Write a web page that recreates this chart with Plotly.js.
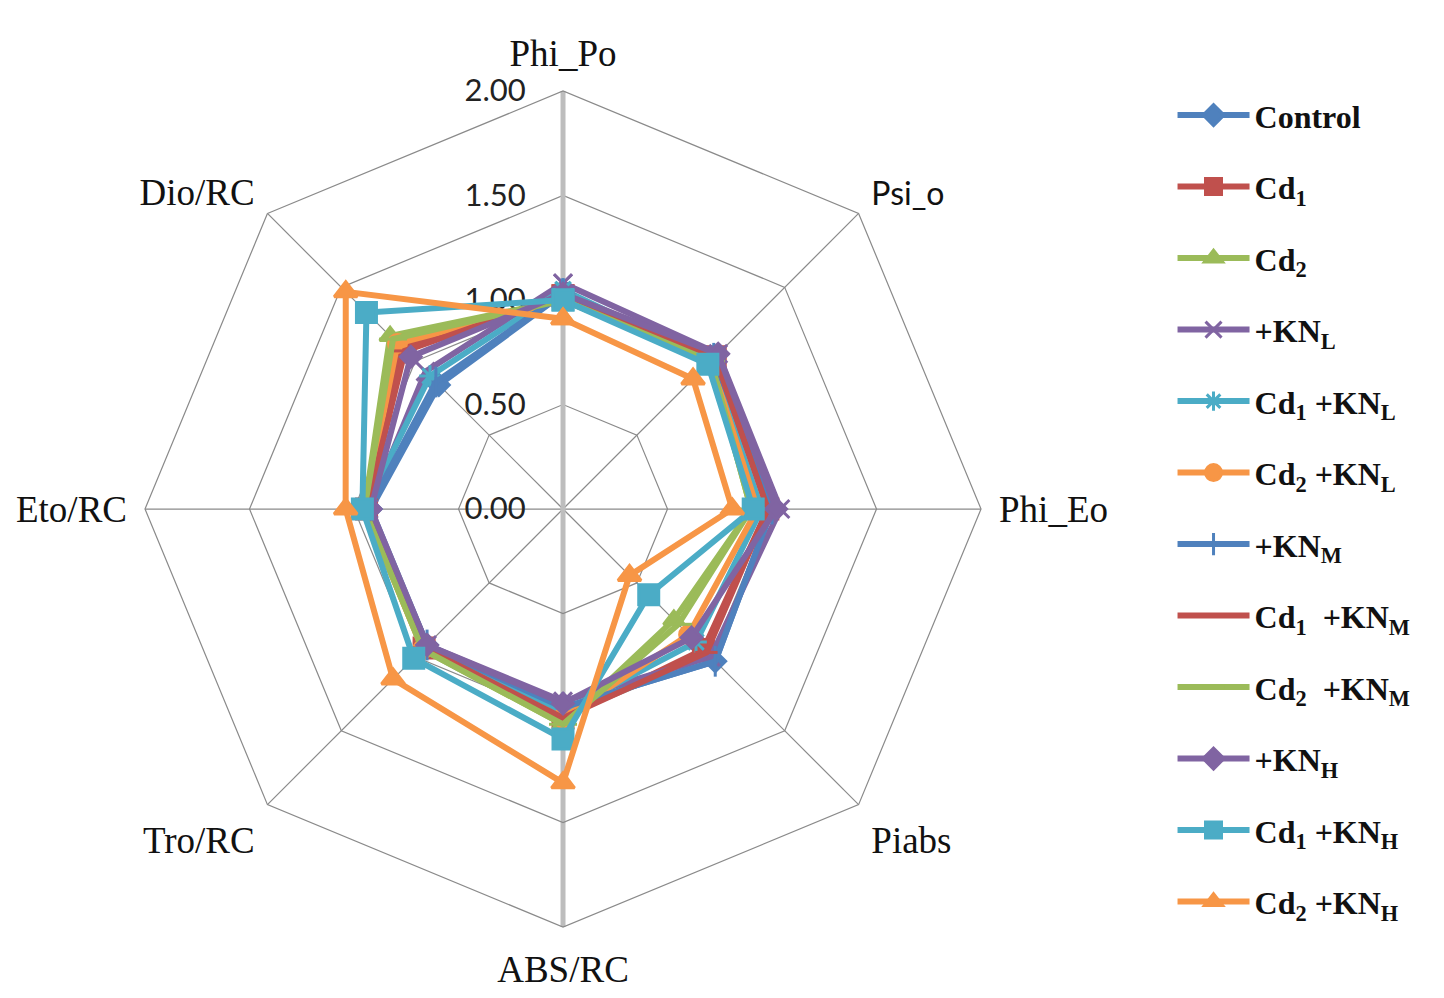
<!DOCTYPE html>
<html><head><meta charset="utf-8">
<script src="https://cdn.plot.ly/plotly-3.0.1.min.js"></script>
<style>html,body{margin:0;padding:0;background:#fff}#chart{width:1444px;height:998px}</style>
</head><body><div id="chart"></div>
<script>
// Axes (clockwise from top)
const categories = ['Phi_Po','Psi_o','Phi_Eo','Piabs','ABS/RC','Tro/RC','Eto/RC','Dio/RC'];
const categoryLabels = ['Phi_Po','<span style="font-family:Lato;font-size:32px">Psi_o</span>','Phi_Eo','Piabs','ABS/RC','Tro/RC','Eto/RC','Dio/RC'];
const radialTicks = [0, 0.5, 1, 1.5, 2];

// Series names
const seriesNames = ['Control','Cd<sub>1</sub>','Cd<sub>2</sub>','+KN<sub>L</sub>','Cd<sub>1</sub> +KN<sub>L</sub>','Cd<sub>2</sub> +KN<sub>L</sub>',
  '+KN<sub>M</sub>','Cd<sub>1</sub>  +KN<sub>M</sub>','Cd<sub>2</sub>  +KN<sub>M</sub>','+KN<sub>H</sub>','Cd<sub>1</sub> +KN<sub>H</sub>','Cd<sub>2</sub> +KN<sub>H</sub>'];

// Values per series (order of categories)
const control   = [1.03, 1.00, 1.00, 1.03, 0.95, 0.92, 0.92, 0.84];
const cd1       = [1.02, 1.03, 0.98, 0.95, 1.00, 0.94, 0.94, 1.09];
const cd2       = [1.00, 1.00, 0.90, 0.75, 1.03, 0.95, 0.95, 1.17];
const knL       = [1.08, 1.05, 1.04, 1.00, 0.92, 0.92, 0.93, 0.93];
const cd1KnL    = [1.05, 1.00, 0.95, 0.90, 0.97, 0.94, 0.95, 0.90];
const cd2KnL    = [1.00, 1.00, 0.93, 0.85, 1.00, 0.95, 0.95, 1.12];
const knM       = [1.03, 1.02, 1.00, 1.03, 0.95, 0.92, 0.93, 0.86];
const cd1KnM    = [1.02, 1.03, 0.98, 0.97, 1.00, 0.94, 0.94, 1.07];
const cd2KnM    = [1.00, 1.00, 0.90, 0.78, 1.03, 0.95, 0.95, 1.15];
const knH       = [1.03, 1.05, 1.02, 0.87, 0.93, 0.92, 0.92, 1.03];
const cd1KnH    = [1.00, 0.98, 0.91, 0.58, 1.10, 1.01, 0.96, 1.33];
const cd2KnH    = [0.91, 0.88, 0.81, 0.45, 1.31, 1.15, 1.04, 1.47];
const seriesValues = [control, cd1, cd2, knL, cd1KnL, cd2KnL, knM, cd1KnM, cd2KnM, knH, cd1KnH, cd2KnH];

// Styles
const colors = ['#4F81BD','#C0504D','#9BBB59','#8064A2','#4BACC6','#F79646','#4F81BD','#C0504D','#9BBB59','#8064A2','#4BACC6','#F79646'];
const symbols = ['diamond','square','triangle-up','x-thin-open','asterisk-open','circle','line-ns-open','line-ew-open','line-ew-open','diamond','square','triangle-up'];
const sizes = [16, 20, 18, 18, 18, 18, 22, 16, 20, 16, 20, 20];

// empty trace so the background polar (spokes) is drawn
const traces = [{type: 'scatterpolar', subplot: 'polar', r: [], theta: [], showlegend: false, hoverinfo: 'skip'}];
seriesValues.forEach((v, i) => traces.push({
  type: 'scatterpolar',
  subplot: 'polar2',
  r: v.concat([v[0]]),
  theta: categories.concat([categories[0]]),
  name: seriesNames[i],
  legendgroup: 'g' + i,
  mode: 'lines+markers',
  line: {color: colors[i], width: 6},
  marker: {symbol: symbols[i], size: sizes[i], color: colors[i], line: {color: colors[i], width: 3}},
  cliponaxis: false
}));

const dom = {x: [0.1004, 0.6794], y: [0.0711, 0.9088]};
const layout = {
  width: 1444, height: 998,
  margin: {l: 0, r: 0, t: 0, b: 0},
  paper_bgcolor: '#fff',
  showlegend: true,
  legend: {
    x: 0.812, y: 0.912, xanchor: 'left', yanchor: 'top',
    font: {family: 'Liberation Serif', size: 32, color: '#111', weight: 'bold'},
    tracegroupgap: 26.9, itemwidth: 72, traceorder: 'grouped',
    bgcolor: 'rgba(0,0,0,0)'
  },
  polar: {
    domain: dom,
    bgcolor: '#fff',
    radialaxis: {range: [0, 2], angle: 270, showline: true, linecolor: '#BDBDBD', linewidth: 5,
      showticklabels: false, ticks: '', showgrid: false, layer: 'below traces'},
    angularaxis: {type: 'linear', thetaunit: 'degrees', rotation: 90, direction: 'clockwise', dtick: 45,
      showgrid: true, gridcolor: '#8a8a8a', gridwidth: 1.2, showticklabels: false, ticks: '', showline: false}
  },
  polar2: {
    domain: dom,
    bgcolor: 'rgba(0,0,0,0)',
    gridshape: 'linear',
    radialaxis: {range: [0, 2], angle: 90, side: 'counterclockwise', tickvals: radialTicks, tickformat: '.2f',
      tickangle: 90,
      showline: true, linecolor: '#BDBDBD', linewidth: 5, showgrid: true, gridcolor: '#8a8a8a', gridwidth: 1.2,
      ticks: 'outside', ticklen: 24, tickcolor: 'rgba(0,0,0,0)',
      tickfont: {family: 'Lato', size: 31, color: '#222'}, layer: 'below traces'},
    angularaxis: {type: 'category', categoryarray: categories, rotation: 90, direction: 'clockwise',
      tickmode: 'array', tickvals: categories, ticktext: categoryLabels,
      showgrid: false, showline: true, linecolor: '#8a8a8a', linewidth: 1.2,
      ticks: 'outside', ticklen: 10, tickcolor: 'rgba(0,0,0,0)',
      tickfont: {family: 'Liberation Serif', size: 37, color: '#111'}}
  }
};
Plotly.newPlot('chart', traces, layout, {displayModeBar: false, staticPlot: true});
</script>
</body></html>
